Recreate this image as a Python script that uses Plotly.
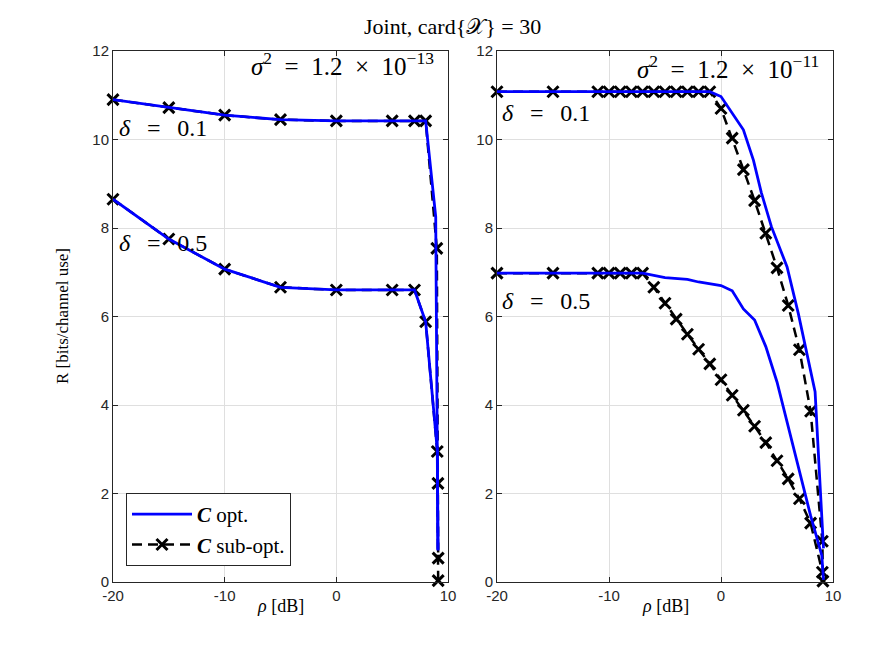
import plotly.graph_objects as go

# ---------------- data ----------------
# Left panel: sigma^2 = 1.2e-13
L_opt_d01_rho = [-20, -15, -10, -5, 0, 5, 7, 8, 8.9, 9.05, 9.1]
L_opt_d01_R = [10.9, 10.72, 10.55, 10.45, 10.42, 10.42, 10.42, 10.42, 8.25, 2.95, 0.72]
L_opt_d05_rho = [-20, -15, -10, -5, 0, 5, 7, 8, 9.05, 9.1]
L_opt_d05_R = [8.65, 7.75, 7.07, 6.66, 6.6, 6.6, 6.6, 5.88, 2.95, 0.72]
L_sub_d01_rho = [-20, -15, -10, -5, 0, 5, 7, 8, 9.0, 9.1, 9.12]
L_sub_d01_R = [10.9, 10.72, 10.55, 10.45, 10.42, 10.42, 10.42, 10.42, 7.54, 2.23, 0.54]
L_sub_d05_rho = [-20, -15, -10, -5, 0, 5, 7, 8, 9.04, 9.12]
L_sub_d05_R = [8.65, 7.75, 7.07, 6.66, 6.6, 6.6, 6.6, 5.88, 2.95, 0.03]

# Right panel: sigma^2 = 1.2e-11
R_opt_d01_rho = [-20, -1, 0, 2, 2.9, 3.6, 4.5, 5.9, 6.9, 8.0, 8.4, 9.15]
R_opt_d01_R = [11.08, 11.08, 10.97, 10.22, 9.53, 8.8, 8.03, 7.12, 6.07, 4.75, 4.3, 0.76]
R_opt_d05_rho = [-20, -7, -5, -3, -2, 0, 1, 2, 3, 4, 5, 6, 7, 8, 9, 9.15]
R_opt_d05_R = [6.98, 6.98, 6.88, 6.84, 6.78, 6.7, 6.58, 6.17, 5.92, 5.32, 4.52, 3.5, 2.45, 1.5, 0.6, 0.05]
R_sub_d01_rho = [-20, -15, -11, -10, -9, -8, -7, -6, -5, -4, -3, -2, -1,
                 0, 1, 2, 3, 4, 5, 6, 7, 8, 9.05, 9.1]
R_sub_d01_R = [11.08, 11.08, 11.08, 11.08, 11.08, 11.08, 11.08, 11.08, 11.08, 11.08, 11.08, 11.08, 11.08,
               10.7, 10.03, 9.32, 8.62, 7.88, 7.1, 6.25, 5.25, 3.86, 0.92, 0.02]
R_sub_d05_rho = [-20, -15, -11, -10, -9, -8, -7, -6, -5, -4, -3, -2, -1,
                 0, 1, 2, 3, 4, 5, 6, 7, 8, 9.05]
R_sub_d05_R = [6.98, 6.98, 6.98, 6.98, 6.98, 6.98, 6.98, 6.66, 6.3, 5.94, 5.6, 5.26, 4.93,
               4.57, 4.22, 3.88, 3.52, 3.15, 2.74, 2.33, 1.88, 1.33, 0.22]

x_ticks = [-20, -10, 0, 10]
x_ticktext = ["-20", "-10", "0", "10"]
y_ticks = [0, 2, 4, 6, 8, 10, 12]

# ---------------- styling ----------------
W, H = 872, 654
SERIF = "Liberation Serif"
SANS = "Liberation Sans"
AX = "#262626"
GRID = "#dfdfdf"
BLUE = "#0000ff"


def px(x):
    return x / W


def py(y):
    return 1 - y / H


fig = go.Figure()


def add_panel(xa, ya, opt_sets, sub_sets, legend):
    for i, (rx, ry) in enumerate(sub_sets):
        fig.add_trace(go.Scatter(
            x=rx, y=ry, xaxis=xa, yaxis=ya, mode="lines+markers",
            line=dict(color="black", width=2.5, dash="10px,6px"),
            marker=dict(symbol="x-thin", size=11, line=dict(width=3, color="black"), color="black"),
            cliponaxis=False,
            name="<b><i>C</i></b> sub-opt.", legendrank=2,
            legendgroup="sub", showlegend=legend and i == 0))
    for i, (rx, ry) in enumerate(opt_sets):
        fig.add_trace(go.Scatter(
            x=rx, y=ry, xaxis=xa, yaxis=ya, mode="lines",
            line=dict(color=BLUE, width=2.8),
            name="<b><i>C</i></b> opt.", legendrank=1,
            legendgroup="opt", showlegend=legend and i == 0))


add_panel("x", "y",
          [(L_opt_d01_rho, L_opt_d01_R), (L_opt_d05_rho, L_opt_d05_R)],
          [(L_sub_d01_rho, L_sub_d01_R), (L_sub_d05_rho, L_sub_d05_R)], True)
add_panel("x2", "y2",
          [(R_opt_d01_rho, R_opt_d01_R), (R_opt_d05_rho, R_opt_d05_R)],
          [(R_sub_d01_rho, R_sub_d01_R), (R_sub_d05_rho, R_sub_d05_R)], False)

axis_common = dict(showline=True, linecolor=AX, linewidth=1, mirror="ticks",
                   ticks="inside", ticklen=5, tickcolor=AX, showgrid=True,
                   gridcolor=GRID, gridwidth=1, zeroline=False, automargin=False,
                   tickfont=dict(family=SANS, size=15, color=AX))

ydom = [py(582), py(51)]
fig.update_layout(
    width=W, height=H,
    margin=dict(l=0, r=0, t=0, b=0, pad=0),
    paper_bgcolor="white", plot_bgcolor="white",
    xaxis=dict(domain=[px(113), px(448)], range=[-20, 10], tickvals=x_ticks, ticktext=x_ticktext,
               anchor="y", **axis_common),
    yaxis=dict(domain=ydom, range=[0, 12], tickvals=y_ticks, anchor="x", **axis_common),
    xaxis2=dict(domain=[px(497), px(833)], range=[-20, 10], tickvals=x_ticks, ticktext=x_ticktext,
                anchor="y2", **axis_common),
    yaxis2=dict(domain=ydom, range=[0, 12], tickvals=y_ticks, anchor="x2", **axis_common),
    legend=dict(x=px(126), y=py(493), xanchor="left", yanchor="top",
                bgcolor="white", bordercolor=AX, borderwidth=1,
                font=dict(family=SERIF, size=21, color="black"),
                itemwidth=60, tracegroupgap=0),
    showlegend=True,
)

NB = "\u00a0"
TH = "\u2009"
ann = []


def text(s, x, y, size, xanchor="left", angle=0):
    ann.append(dict(text=s, x=px(x), y=py(y), xref="paper", yref="paper",
                    xanchor=xanchor, yanchor="middle", showarrow=False, textangle=angle,
                    font=dict(family=SERIF, size=size, color="black")))


text("Joint, card{\U0001D4B3} = 30", 452, 27, 22, xanchor="center")
sig = "<i>σ</i><sup>2</sup>" + NB * 2 + "=" + NB * 2 + "1.2" + NB * 2 + "×" + NB * 2 + "10<sup>−%s</sup>"
text(sig % "13", 436, 64, 25, xanchor="right")
text(sig % "11", 821, 67, 25, xanchor="right")
d = "<i>δ</i>" + NB * 2 + TH + "=" + NB * 2 + TH + "%s"
text(d % "0.1", 117, 128, 24)
text(d % "0.5", 117, 243, 24)
text(d % "0.1", 500, 113, 24)
text(d % "0.5", 500, 301, 24)
text("R [bits/channel use]", 62, 316, 17, xanchor="center", angle=-90)
text("<i>ρ</i> [dB]", 280, 606, 18, xanchor="center")
text("<i>ρ</i> [dB]", 665, 606, 18, xanchor="center")
fig.update_layout(annotations=ann)

fig.write_html("out.html", config={"displayModeBar": False},
               post_script="document.body.style.margin='0px';")
